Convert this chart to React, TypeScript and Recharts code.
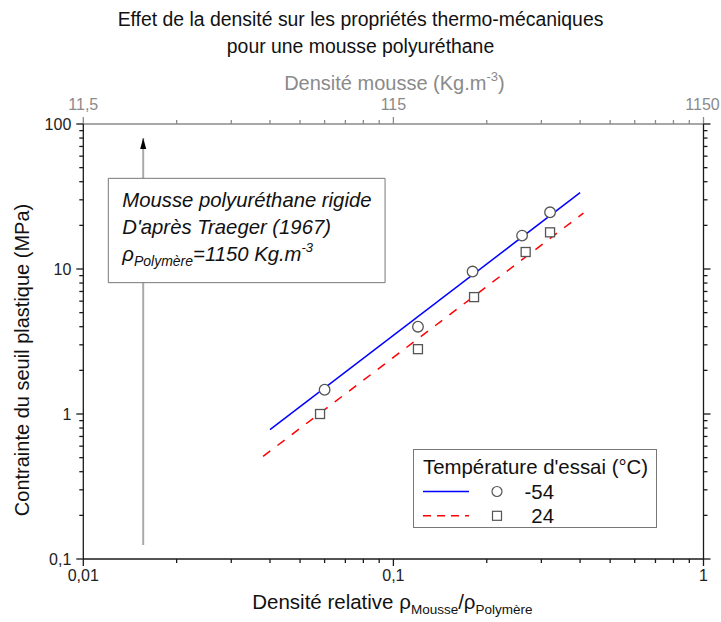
import React from 'react';
import { ComposedChart, Line, Scatter, XAxis, YAxis, ReferenceArea, Legend, Label } from 'recharts';

// Traeger (1967) - contrainte au seuil plastique d'une mousse PU rigide
const densiteRel54 = [0.06, 0.12, 0.18, 0.26, 0.32];
const contrainte54 = [1.47, 4.0, 9.6, 17.0, 24.6];
const densiteRel24 = [0.058, 0.12, 0.182, 0.267, 0.32];
const contrainte24 = [1.0, 2.8, 6.4, 13.1, 17.9];

// droites d'ajustement
const ajustX54 = [0.04, 0.4];
const ajustY54 = [0.78, 33.6];
const ajustX24 = [0.038, 0.41];
const ajustY24 = [0.51, 24.3];

// flèche verticale
const flecheX = [0.0156, 0.0156];
const flecheY = [0.125, 80];

const temperatures = ['-54', '24'];
const rhoPolymere = 1150;

const FONT = '"Liberation Sans", Arial, sans-serif';
const NOIR = '#1a1a1a';
const GRIS = '#8a8a8a';

const toPts = (xs: number[], ys: number[]) => xs.map((x, i) => ({ x, y: ys[i] }));

const pts54 = toPts(densiteRel54, contrainte54);
const pts24 = toPts(densiteRel24, contrainte24);
const ajust54 = toPts(ajustX54, ajustY54);
const ajust24 = toPts(ajustX24, ajustY24);
const fleche = toPts(flecheX, flecheY);

const logTicks = (min: number, max: number) => {
  const out: number[] = [];
  for (let d = min; d <= max * 1.0001; d *= 10) {
    for (let k = 1; k < 10; k++) {
      const v = +(k * d).toPrecision(3);
      if (v <= max * 1.0001) out.push(v);
    }
  }
  return out;
};
const ticksX = logTicks(0.01, 1);
const ticksY = logTicks(0.1, 100);

const isMajor = (v: number) => Math.abs(Math.log10(v) - Math.round(Math.log10(v))) < 1e-6;
const fr = (v: number) => String(v).replace('.', ',');

const BasTick = (p: any) => {
  const major = isMajor(p.payload.value);
  return (
    <g>
      <line x1={p.x} x2={p.x} y1={p.y} y2={p.y + (major ? 7 : 4)} stroke={NOIR} strokeWidth={1.3} />
      {major && (
        <text x={p.x} y={p.y + 22} textAnchor="middle" fontSize={16} fontFamily={FONT} fill="#222">
          {fr(p.payload.value)}
        </text>
      )}
    </g>
  );
};

const HautTick = (p: any) => {
  const major = isMajor(p.payload.value);
  return (
    <g>
      <line x1={p.x} x2={p.x} y1={p.y} y2={p.y - (major ? 7 : 4)} stroke={GRIS} strokeWidth={1.3} />
      {major && (
        <text x={Math.min(p.x, 702.5)} y={p.y - 14} textAnchor="middle" fontSize={16} fontFamily={FONT} fill={GRIS}>
          {fr(Math.round(p.payload.value * rhoPolymere * 10) / 10)}
        </text>
      )}
    </g>
  );
};

const GaucheTick = (p: any) => {
  const major = isMajor(p.payload.value);
  return (
    <g>
      <line x1={p.x} x2={p.x - (major ? 7 : 4)} y1={p.y} y2={p.y} stroke={NOIR} strokeWidth={1.3} />
      {major && (
        <text x={p.x - 12} y={p.y + 6} textAnchor="end" fontSize={16} fontFamily={FONT} fill="#222">
          {fr(p.payload.value)}
        </text>
      )}
    </g>
  );
};

const DroiteTick = (p: any) => {
  const major = isMajor(p.payload.value);
  return <line x1={p.x} x2={p.x + (major ? 7 : 4)} y1={p.y} y2={p.y} stroke={NOIR} strokeWidth={1.3} />;
};

const LabelBas = (p: any) => {
  const vb = p.viewBox;
  return (
    <text x={vb.x + vb.width / 2 - 1} y={vb.y + 50} textAnchor="middle" fontSize={20.5} fontFamily={FONT} fill="#111">
      Densité relative ρ
      <tspan fontSize={13.5} dy={5}>Mousse</tspan>
      <tspan dy={-5}>/ρ</tspan>
      <tspan fontSize={13.5} dy={5}>Polymère</tspan>
    </text>
  );
};

const LabelHaut = (p: any) => {
  const vb = p.viewBox;
  return (
    <text x={vb.x + vb.width / 2 + 1} y={90} textAnchor="middle" fontSize={20} fontFamily={FONT} fill={GRIS}>
      Densité mousse (Kg.m
      <tspan fontSize={13} dy={-9}>-3</tspan>
      <tspan dy={9}>)</tspan>
    </text>
  );
};

const LabelGauche = () => {
  const cy = 360;
  return (
    <text
      x={29}
      y={cy}
      transform={`rotate(-90 29 ${cy})`}
      textAnchor="middle"
      fontSize={20}
      fontFamily={FONT}
      fill="#111"
    >
      Contrainte du seuil plastique (MPa)
    </text>
  );
};

const Annotation = (p: any) => {
  const vb = p.viewBox;
  const x = vb.x + 14;
  return (
    <g fontFamily={FONT} fontStyle="italic" fontSize={20.3} fill="#111">
      <text x={x} y={vb.y + 29}>Mousse polyuréthane rigide</text>
      <text x={x} y={vb.y + 56}>D'après Traeger (1967)</text>
      <text x={x} y={vb.y + 83}>
        ρ
        <tspan fontSize={14} dy={5}>Polymère</tspan>
        <tspan dy={-5}>=1150 Kg.m</tspan>
        <tspan fontSize={13} dy={-9}>-3</tspan>
      </text>
    </g>
  );
};

const Cercle = (p: any) => <circle cx={p.cx} cy={p.cy} r={5.3} fill="#fff" stroke="#555" strokeWidth={1.3} />;
const Carre = (p: any) => (
  <rect x={p.cx - 4.5} y={p.cy - 4.5} width={9} height={9} fill="#fff" stroke="#555" strokeWidth={1.3} />
);

const PointeFleche = (p: any) =>
  p.index === flecheX.length - 1 ? (
    <path key={p.index} d={`M${p.cx},${p.cy} L${p.cx - 3},${p.cy + 11} L${p.cx + 3},${p.cy + 11} Z`} fill="#000" />
  ) : (
    <g key={p.index} />
  );

const series = [
  { name: temperatures[0], color: '#0000ff', dash: undefined, shape: 'cercle' },
  { name: temperatures[1], color: '#ff0000', dash: '8 6', shape: 'carre' },
];

const LegendeBoite = () => (
  <svg width={244} height={79} style={{ display: 'block' }}>
    <rect x={0.5} y={0.5} width={243} height={78} fill="#fff" stroke="#777" />
    <text x={10} y={25} fontSize={20.4} fontFamily={FONT} fill="#111">
      Température d'essai (°C)
    </text>
    {series.map((s, i) => {
      const cy = 42.5 + i * 24.3;
      return (
        <g key={s.name}>
          <line x1={10} x2={56} y1={cy} y2={cy} stroke={s.color} strokeWidth={1.5} strokeDasharray={s.dash} />
          {s.shape === 'cercle' ? (
            <circle cx={84} cy={cy} r={5} fill="#fff" stroke="#555" strokeWidth={1.2} />
          ) : (
            <rect x={79.5} y={cy - 4.5} width={9} height={9} fill="#fff" stroke="#555" strokeWidth={1.2} />
          )}
          <text x={141} y={cy + 7} textAnchor="end" fontSize={20.4} fontFamily={FONT} fill="#111">
            {s.name}
          </text>
        </g>
      );
    })}
  </svg>
);

export default function App() {
  return (
    <div
      style={{
        position: 'absolute',
        left: 0,
        top: 0,
        width: 721,
        height: 622,
        overflow: 'hidden',
        fontFamily: FONT,
      }}
    >
      <div
        style={{
          position: 'absolute',
          top: 6,
          left: 0,
          width: 721,
          textAlign: 'center',
          fontSize: 19.4,
          lineHeight: '27px',
          color: '#111',
        }}
      >
        Effet de la densité sur les propriétés thermo-mécaniques
        <br />
        pour une mousse polyuréthane
      </div>
      <ComposedChart width={721} height={622} margin={{ top: 0, right: 0, bottom: 0, left: 0 }}>
        <XAxis
          dataKey="x"
          type="number"
          scale="log"
          domain={[0.01, 1]}
          allowDataOverflow
          ticks={ticksX}
          interval={0}
          tickSize={0}
          tickMargin={0}
          tickLine={false}
          tick={BasTick}
          axisLine={{ stroke: NOIR, strokeWidth: 1.3 }}
          height={63}
          label={<Label content={LabelBas} />}
        />
        <XAxis
          xAxisId="haut"
          dataKey="x"
          orientation="top"
          type="number"
          scale="log"
          domain={[0.01, 1]}
          allowDataOverflow
          ticks={ticksX}
          interval={0}
          tickSize={0}
          tickMargin={0}
          tickLine={false}
          tick={HautTick}
          axisLine={{ stroke: GRIS, strokeWidth: 1.3 }}
          height={124}
          label={<Label content={LabelHaut} />}
        />
        <YAxis
          dataKey="y"
          type="number"
          scale="log"
          domain={[0.1, 100]}
          allowDataOverflow
          ticks={ticksY}
          interval={0}
          tickSize={0}
          tickMargin={0}
          tickLine={false}
          tick={GaucheTick}
          axisLine={{ stroke: NOIR, strokeWidth: 1.3 }}
          width={83.3}
          label={<Label content={LabelGauche} />}
        />
        <YAxis
          yAxisId="droite"
          dataKey="y"
          orientation="right"
          type="number"
          scale="log"
          domain={[0.1, 100]}
          allowDataOverflow
          ticks={ticksY}
          interval={0}
          tickSize={0}
          tickMargin={0}
          tickLine={false}
          tick={DroiteTick}
          axisLine={{ stroke: NOIR, strokeWidth: 1.3 }}
          width={17.5}
        />
        <Line
          data={fleche}
          xAxisId="haut"
          yAxisId="droite"
          dataKey="y"
          stroke="#aaa"
          strokeWidth={2}
          dot={PointeFleche}
          activeDot={false}
          isAnimationActive={false}
        />
        <ReferenceArea
          x1={0.01204}
          x2={0.094}
          y1={8.05}
          y2={42.2}
          fill="#fff"
          fillOpacity={1}
          stroke="#777"
          strokeWidth={1}
          zIndex={450}
          label={<Label content={Annotation} />}
        />
        <Line data={ajust54} dataKey="y" stroke="#0000ff" strokeWidth={1.5} dot={false} activeDot={false} isAnimationActive={false} />
        <Line
          data={ajust24}
          dataKey="y"
          stroke="#ff0000"
          strokeWidth={1.5}
          strokeDasharray="9 9"
          dot={false}
          activeDot={false}
          isAnimationActive={false}
        />
        <Scatter data={pts54} dataKey="y" shape={Cercle} isAnimationActive={false} />
        <Scatter data={pts24} dataKey="y" shape={Carre} isAnimationActive={false} />
        <Legend
          content={LegendeBoite}
          layout="vertical"
          align="center"
          verticalAlign="middle"
          wrapperStyle={{ left: 412.7, top: 449.3, width: 244, height: 79 }}
        />
      </ComposedChart>
    </div>
  );
}
